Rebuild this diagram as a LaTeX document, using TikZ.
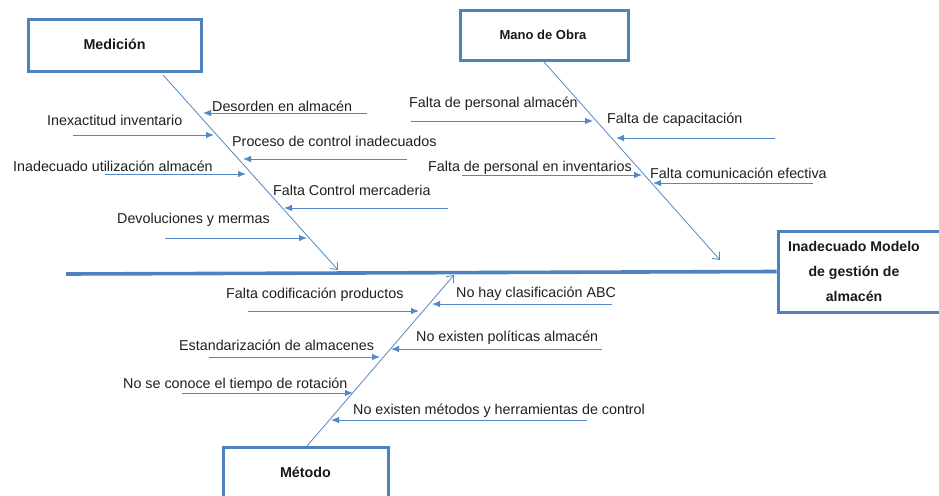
\documentclass[tikz,border=0pt]{standalone}
\usepackage{fontspec}
\setmainfont{Liberation Sans}
\usetikzlibrary{arrows.meta}
\definecolor{bl}{RGB}{79,129,189}
\definecolor{ln}{RGB}{84,135,196}
\begin{document}
\begin{tikzpicture}[x=1pt,y=-1pt,
  lbl/.style={anchor=base west,inner sep=0pt,font=\fontsize{14.3}{17}\selectfont,text=black!88},
  catbox/.style={draw=bl,line width=3pt,rectangle,inner sep=0pt},
  cattxt/.style={inner sep=0pt,font=\bfseries\fontsize{14.3}{17}\selectfont,text=black!90},
  cause/.style={draw=ln,line width=0.9pt,-{Latex[length=8pt,width=6.5pt]}},
  bone/.style={draw=ln,line width=0.8pt,-{Straight Barb[length=6pt,width=10pt]}}]
\useasboundingbox (0,0) rectangle (939,495);
\clip (0,0) rectangle (939,495);

% category boxes
\node[catbox,minimum width=173pt,minimum height=51pt] (medbox) at (114.5,45.5) {};
\node[cattxt] (med) at (114.5,44) {Medición};
\node[catbox,minimum width=168pt,minimum height=50pt] (mobbox) at (544,36) {};
\node[cattxt,font=\bfseries\fontsize{13}{16}\selectfont] (mob) at (543,35) {Mano de Obra};
\node[catbox,minimum width=165pt,minimum height=80pt] (metbox) at (305.5,487) {};
\node[cattxt] (met) at (305.5,472) {Método};

% effect box
\node[catbox,minimum width=166pt,minimum height=81pt] (effbox) at (861,271.5) {};
\node[cattxt,align=center,font=\bfseries\fontsize{14.1}{25}\selectfont] (eff) at (854,271) {Inadecuado Modelo\\de gestión de\\almacén};

% spine
\coordinate (spL) at (66,274);
\draw[draw=bl,line width=3.6pt] (spL) -- (effbox.west);

% bones
\coordinate (b1s) at (163,75);  \coordinate (b1e) at (338,270);
\coordinate (b2s) at (544,62);  \coordinate (b2e) at (720,260);
\coordinate (b3s) at (307,446); \coordinate (b3e) at (454,275);
\draw[bone] (b1s) -- (b1e);
\draw[bone] (b2s) -- (b2e);
\draw[bone] (b3s) -- (b3e);

% causes: Medicion
\coordinate (c1a) at (367,113); \coordinate (c1b) at (203,113);
\coordinate (c2a) at (73,135);  \coordinate (c2b) at (214,135);
\coordinate (c3a) at (407,159); \coordinate (c3b) at (243,159);
\coordinate (c4a) at (105,174); \coordinate (c4b) at (246,174);
\coordinate (c5a) at (448,208); \coordinate (c5b) at (284,208);
\coordinate (c6a) at (165,238); \coordinate (c6b) at (307,238);
% causes: Mano de Obra
\coordinate (c7a) at (411,121); \coordinate (c7b) at (593,121);
\coordinate (c8a) at (775,138); \coordinate (c8b) at (616,138);
\coordinate (c9a) at (462,175); \coordinate (c9b) at (642,175);
\coordinate (c10a) at (813,183); \coordinate (c10b) at (653,183);
% causes: Metodo
\coordinate (c11a) at (248,311); \coordinate (c11b) at (419,311);
\coordinate (c12a) at (612,304); \coordinate (c12b) at (432,304);
\coordinate (c13a) at (209,357); \coordinate (c13b) at (380,357);
\coordinate (c14a) at (602,349); \coordinate (c14b) at (391,349);
\coordinate (c15a) at (182,393); \coordinate (c15b) at (353,393);
\coordinate (c16a) at (587,420); \coordinate (c16b) at (331,420);

\foreach \i in {1,...,16} {\draw[cause] (c\i a) -- (c\i b);}

% labels
\node[lbl] (l1) at (212,111) {Desorden en almacén};
\node[lbl] (l2) at (47,125) {Inexactitud inventario};
\node[lbl] (l3) at (232,146) {Proceso de control inadecuados};
\node[lbl] (l4) at (13,171) {Inadecuado utilización almacén};
\node[lbl] (l5) at (273,195) {Falta Control mercaderia};
\node[lbl] (l6) at (117,223) {Devoluciones y mermas};
\node[lbl] (l7) at (409,107) {Falta de personal almacén};
\node[lbl] (l8) at (607,123) {Falta de capacitación};
\node[lbl] (l9) at (428,171) {Falta de personal en inventarios};
\node[lbl] (l10) at (650,178) {Falta comunicación efectiva};
\node[lbl] (l11) at (226,298) {Falta codificación productos};
\node[lbl] (l12) at (456,297) {No hay clasificación ABC};
\node[lbl] (l13) at (179,350) {Estandarización de almacenes};
\node[lbl] (l14) at (416,341) {No existen políticas almacén};
\node[lbl] (l15) at (123,388) {No se conoce el tiempo de rotación};
\node[lbl] (l16) at (353,414) {No existen métodos y herramientas de control};
\end{tikzpicture}
\end{document}
